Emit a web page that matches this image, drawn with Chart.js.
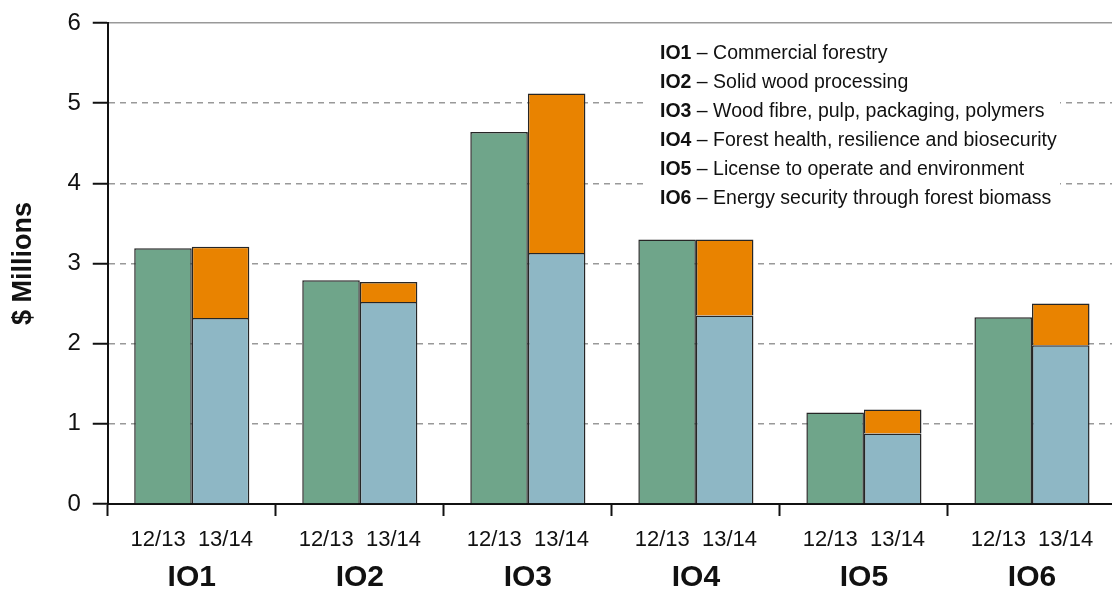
<!DOCTYPE html>
<html>
<head>
<meta charset="utf-8">
<script src="https://cdn.jsdelivr.net/npm/chart.js@4/dist/chart.umd.min.js"></script>
<style>
    body { margin: 0; background: #fff; overflow: hidden; }
    .chart-box { width: 1116px; height: 596px; }
</style>
</head>
<body>
<div class="chart-box"><canvas id="ioChart"></canvas></div>
<script>
const groups = ['IO1', 'IO2', 'IO3', 'IO4', 'IO5', 'IO6'];
const periods = ['12/13', '13/14'];
const spend1213 = [3.19, 2.79, 4.64, 3.30, 1.14, 2.33];
const base1314 = [2.32, 2.52, 3.13, 2.35, 0.88, 1.98];
const extra1314 = [0.89, 0.25, 1.99, 0.95, 0.30, 0.52];
const yTicks = [0, 1, 2, 3, 4, 5, 6];
const ioNames = [
    'Commercial forestry',
    'Solid wood processing',
    'Wood fibre, pulp, packaging, polymers',
    'Forest health, resilience and biosecurity',
    'License to operate and environment',
    'Energy security through forest biomass'
];

const fontFamily = '"Liberation Sans", Arial, sans-serif';

// key box in the top right corner
const keyBox = {
    id: 'keyBox',
    afterDraw(chart) {
        const ctx = chart.ctx;
        ctx.save();
        ctx.fillStyle = '#fff';
        ctx.fillRect(645, 36, 415, 176);
        ctx.textBaseline = 'middle';
        ctx.fillStyle = '#111';
        groups.forEach((g, i) => {
            const y = 54 + i * 28.9;
            ctx.font = 'bold 19.5px ' + fontFamily;
            ctx.fillText(g, 660, y);
            const w = ctx.measureText(g).width;
            ctx.font = '19.5px ' + fontFamily;
            ctx.fillText(' \u2013 ' + ioNames[i], 660 + w, y);
        });
        ctx.restore();
    }
};

const barStyle = {
    borderColor: '#262626',
    borderWidth: 1.5,
    categoryPercentage: 0.685,
    barPercentage: 1.0
};

const ctx = document.getElementById('ioChart').getContext('2d');
const ioChart = new Chart(ctx, {
    type: 'bar',
    data: {
        labels: groups,
        datasets: [
            Object.assign({
                label: periods[0],
                data: spend1213,
                backgroundColor: '#6fa58a',
                stack: 'prev'
            }, barStyle),
            Object.assign({
                label: periods[1],
                data: base1314,
                backgroundColor: '#8eb7c5',
                stack: 'curr'
            }, barStyle),
            Object.assign({
                label: periods[1] + ' extra',
                data: extra1314,
                backgroundColor: '#e98300',
                stack: 'curr'
            }, barStyle)
        ]
    },
    options: {
        responsive: true,
        maintainAspectRatio: false,
        animation: false,
        layout: {
            padding: { left: 7, right: 0, top: 23, bottom: 4 }
        },
        plugins: {
            legend: { display: false },
            tooltip: { enabled: false }
        },
        scales: {
            x: {
                stacked: true,
                weight: 0,
                grid: {
                    offset: true,
                    drawOnChartArea: false,
                    tickLength: 12,
                    tickWidth: 2,
                    tickColor: '#111'
                },
                border: { color: '#111', width: 2 },
                ticks: {
                    padding: 10.8,
                    color: '#111',
                    font: { family: fontFamily, size: 22 },
                    callback: () => periods.join('  ')
                }
            },
            x2: {
                type: 'category',
                position: 'bottom',
                weight: 1,
                offset: true,
                grid: { display: false, drawTicks: false, tickLength: 0 },
                border: { display: false },
                ticks: {
                    padding: 2,
                    color: '#111',
                    font: { family: fontFamily, size: 30, weight: 'bold', lineHeight: 0.8 }
                }
            },
            y: {
                stacked: true,
                min: 0,
                max: 6,
                afterBuildTicks: scale => {
                    scale.ticks = yTicks.map(v => ({ value: v }));
                },
                grid: {
                    color: c => c.tick && c.tick.value === 0 ? 'rgba(0,0,0,0)' : '#999',
                    lineWidth: 1.5,
                    tickLength: 15,
                    tickWidth: 2,
                    tickColor: '#111'
                },
                border: {
                    color: '#111',
                    width: 2,
                    dash: c => c.tick && c.tick.value < 6 ? [6, 5] : []
                },
                ticks: {
                    padding: 12,
                    color: '#111',
                    font: { family: fontFamily, size: 24, lineHeight: 0.8 }
                },
                title: {
                    display: true,
                    text: '$ Millions',
                    color: '#111',
                    padding: { top: 0, bottom: 16 },
                    font: { family: fontFamily, size: 27, weight: 'bold' }
                }
            }
        }
    },
    plugins: [keyBox]
});
</script>
</body>
</html>
